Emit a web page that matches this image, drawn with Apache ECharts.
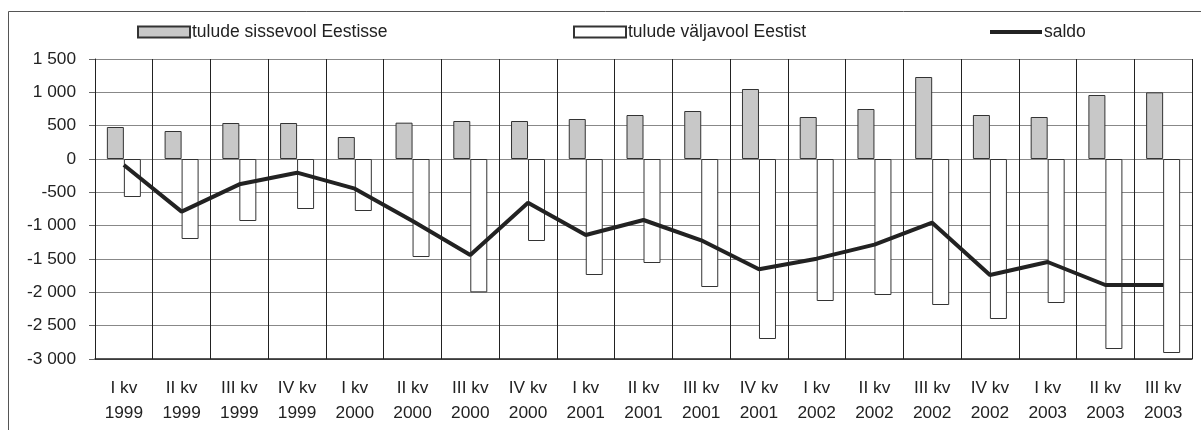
<!DOCTYPE html>
<html><head><meta charset="utf-8">
<script src="https://cdn.jsdelivr.net/npm/echarts@6/dist/echarts.min.js"></script>
<style>html,body{margin:0;padding:0;background:#fff}#c{width:1201px;height:430px}</style>
</head><body><div id="c"></div>
<script>
const quarters = ['I kv','II kv','III kv','IV kv','I kv','II kv','III kv','IV kv','I kv','II kv','III kv','IV kv','I kv','II kv','III kv','IV kv','I kv','II kv','III kv'];
const years = ['1999','1999','1999','1999','2000','2000','2000','2000','2001','2001','2001','2001','2002','2002','2002','2002','2003','2003','2003'];
const inflow = [480,420,540,540,330,545,570,570,600,660,720,1050,630,750,1230,660,630,960,1000];
const outflow = [-570,-1200,-930,-750,-780,-1470,-2000,-1230,-1740,-1560,-1920,-2700,-2130,-2040,-2190,-2400,-2160,-2850,-2910];
const saldo = [-90,-790,-380,-205,-445,-930,-1440,-655,-1140,-915,-1220,-1655,-1495,-1285,-955,-1740,-1545,-1890,-1890];
const seriesNames = ['tulude sissevool Eestisse','tulude väljavool Eestist','saldo'];

const categories = quarters.map((q,i)=>q+'\n'+years[i]);
const font = 'Liberation Sans, Arial, sans-serif';
const legTxt = {fontSize:17.5,color:'#222',fontFamily:font,padding:[0,0,0,-3]};
const chart = echarts.init(document.getElementById('c'), null, {renderer:'canvas'});
chart.setOption({
  animation:false,
  backgroundColor:'#fff',
  textStyle:{fontFamily:font},
  graphic:[{type:'rect',shape:{x:8.5,y:11.5,width:1210,height:440},style:{fill:'none',stroke:'#555',lineWidth:1},z:-10}],
  legend:[
    {data:[{name:seriesNames[0],icon:'rect'}],left:137,top:23,padding:0,itemWidth:52,itemHeight:11,textStyle:legTxt},
    {data:[{name:seriesNames[1],icon:'rect'}],left:573,top:23,padding:0,itemWidth:52,itemHeight:11,textStyle:legTxt},
    {data:[{name:seriesNames[2],icon:'rect'}],left:990,top:23,padding:0,itemWidth:52,itemHeight:4,textStyle:legTxt}
  ],
  grid:{left:95,right:9,top:59,bottom:71,containLabel:false},
  xAxis:{type:'category',data:categories,boundaryGap:true,
    axisLine:{onZero:false,lineStyle:{color:'#222',width:1.5}},
    axisTick:{show:false},
    splitLine:{show:true,lineStyle:{color:'#222',width:1}},
    axisLabel:{interval:0,fontSize:17.3,color:'#222',lineHeight:25,margin:17,fontFamily:font}},
  yAxis:{type:'value',min:-3000,max:1500,interval:500,
    axisLine:{show:true,lineStyle:{color:'#222',width:1}},
    axisTick:{show:true,length:6,lineStyle:{color:'#666'}},
    splitLine:{show:true,lineStyle:{color:'#888',width:1.2}},
    axisLabel:{fontSize:17.3,color:'#222',margin:19,fontFamily:font,
      formatter:v=>{const s=Math.abs(v).toString().replace(/\B(?=(\d{3})+(?!\d))/g,' ');return (v<0?'-':'')+s;}}},
  series:[
    {name:seriesNames[0],type:'bar',data:inflow,barWidth:17,barGap:'0%',
      itemStyle:{color:'#c8c8c8',borderColor:'#333',borderWidth:1}},
    {name:seriesNames[1],type:'bar',data:outflow,barWidth:17,barGap:'0%',
      itemStyle:{color:'#fff',borderColor:'#333',borderWidth:1}},
    {name:seriesNames[2],type:'line',data:saldo,symbol:'none',z:5,
      lineStyle:{color:'#222',width:4},itemStyle:{color:'#222'}}
  ]
});
</script></body></html>
